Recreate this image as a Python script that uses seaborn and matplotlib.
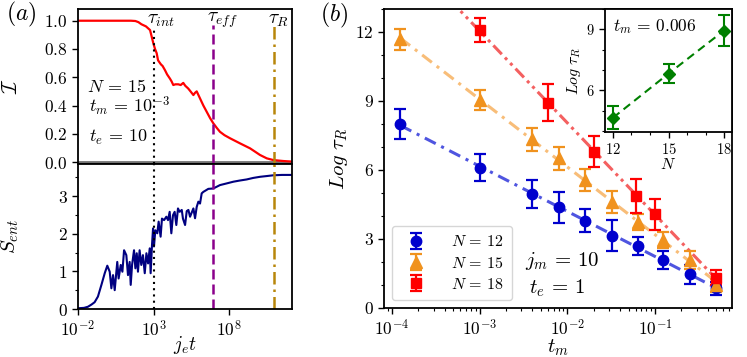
import numpy as np
import pandas as pd
import matplotlib
matplotlib.use("Agg")
import matplotlib.pyplot as plt
from matplotlib.ticker import MultipleLocator, NullLocator, FixedLocator
import seaborn as sns

# ---------------- data: panel (a) ----------------
# time axis values given as log10(j_e t)
logt_I = [-2, -1, 0, 1, 1.5, 1.8, 2.0, 2.2, 2.5, 2.77, 2.99, 3.1, 3.21, 3.3, 3.43, 3.5,
          3.6, 3.76, 3.9, 4.09, 4.2, 4.31, 4.45, 4.64, 4.8, 4.97, 5.1, 5.30, 5.45, 5.64,
          5.75, 5.86, 6.08, 6.3, 6.52, 6.75, 6.96, 7.2, 7.40, 7.7, 8.07, 8.4, 8.73, 9.05,
          9.39, 9.7, 10.05, 10.5, 10.93, 11.3, 11.6, 12.2]
I_vals = [1.0, 1.0, 1.0, 1.0, 1.0, 0.998, 0.99, 0.975, 0.96, 0.934, 0.84, 0.80, 0.77, 0.72,
          0.70, 0.69, 0.68, 0.65, 0.62, 0.59, 0.57, 0.545, 0.55, 0.55, 0.545, 0.56, 0.54,
          0.52, 0.50, 0.474, 0.49, 0.50, 0.45, 0.40, 0.356, 0.31, 0.274, 0.24, 0.214, 0.19,
          0.168, 0.15, 0.132, 0.115, 0.097, 0.075, 0.05, 0.026, 0.014, 0.01, 0.007, 0.003]

logt_S = [-2, -1.6, -1.34, -1.1, -0.9, -0.68, -0.45, -0.23, -0.06, 0.10, 0.21, 0.32, 0.43,
          0.60, 0.69, 0.83, 0.94, 1.05, 1.20, 1.31, 1.42, 1.49, 1.58, 1.71, 1.80, 1.89,
          1.97, 2.08, 2.19, 2.30, 2.42, 2.53, 2.64, 2.75, 2.81, 2.90, 2.97, 3.03, 3.12,
          3.25, 3.34, 3.47, 3.56, 3.70, 3.85, 3.96, 4.07, 4.18, 4.29, 4.40, 4.51, 4.62,
          4.73, 4.87, 4.95, 5.09, 5.20, 5.31, 5.42, 5.64, 5.75, 5.86, 5.97, 6.08, 6.19,
          6.30, 6.63, 6.96, 7.40, 7.8, 8.29, 8.7, 9.17, 9.6, 10.05, 10.5, 10.93, 11.5, 12.2]
S_vals = [0.02, 0.03, 0.06, 0.12, 0.18, 0.33, 0.64, 0.95, 1.15, 0.99, 0.55, 0.90, 0.50,
          1.25, 0.81, 1.17, 0.99, 1.56, 1.43, 0.90, 1.25, 0.64, 1.17, 1.56, 1.08, 1.48,
          0.99, 1.56, 1.17, 1.43, 0.95, 1.48, 1.21, 1.61, 0.95, 1.70, 2.14, 1.66, 2.09,
          2.01, 2.32, 1.92, 2.40, 2.36, 2.45, 2.36, 2.58, 2.01, 2.49, 2.58, 2.23, 2.67,
          2.58, 2.63, 2.40, 2.23, 2.60, 2.63, 2.45, 2.67, 2.41, 2.71, 2.85, 2.80, 3.07,
          3.11, 3.19, 3.20, 3.29, 3.33, 3.38, 3.41, 3.44, 3.48, 3.51, 3.53, 3.55, 3.56, 3.56]

tau_int = 1e3
tau_eff = 10 ** 6.95
tau_R = 10 ** 10.95

# ---------------- data: panel (b) ----------------
tm_12 = [1.25e-4, 1e-3, 4e-3, 8e-3, 1.6e-2, 3.2e-2, 6.4e-2, 0.125, 0.25, 0.5]
lt_12 = [8.0, 6.1, 4.96, 4.38, 3.80, 3.15, 2.70, 2.09, 1.46, 0.85]
er_12 = [0.67, 0.6, 0.6, 0.67, 0.49, 0.67, 0.4, 0.41, 0.43, 0.3]

tm_15 = [1.25e-4, 1e-3, 4e-3, 8e-3, 1.6e-2, 3.2e-2, 6.4e-2, 0.125, 0.25, 0.5]
lt_15 = [11.68, 9.04, 7.33, 6.51, 5.57, 4.62, 3.75, 2.96, 2.09, 0.98]
er_15 = [0.46, 0.43, 0.49, 0.49, 0.47, 0.47, 0.34, 0.34, 0.4, 0.3]

tm_18 = [1e-3, 6e-3, 2e-2, 6e-2, 0.1, 0.5]
lt_18 = [12.09, 8.93, 6.8, 4.88, 4.07, 1.32]
er_18 = [0.54, 0.8, 0.67, 0.75, 0.67, 0.33]

N_inset = [12, 15, 18]
lt_inset = [4.65, 6.82, 8.94]
er_inset = [0.57, 0.47, 0.78]

# ---------------- style ----------------
sns.set_style("ticks")
plt.rcParams.update({
    "font.family": "serif",
    "font.serif": ["cmr10", "DejaVu Serif"],
    "mathtext.fontset": "cm",
    "axes.formatter.use_mathtext": True,
    "axes.unicode_minus": False,
    "axes.edgecolor": "black",
    "axes.linewidth": 1.3,
    "xtick.color": "black", "ytick.color": "black",
    "xtick.major.size": 4, "ytick.major.size": 4,
    "xtick.minor.size": 2.2, "ytick.minor.size": 2.2,
    "xtick.major.width": 1.0, "ytick.major.width": 1.0,
    "xtick.minor.width": 0.8, "ytick.minor.width": 0.8,
    "xtick.direction": "out", "ytick.direction": "out",
    "xtick.labelsize": 12.5, "ytick.labelsize": 12.5,
    "text.color": "black", "axes.labelcolor": "black",
})

W, H = 747, 357
fig = plt.figure(figsize=(W / 100, H / 100), dpi=100)


def box(l, t, r, b):
    return [l / W, (H - b) / H, (r - l) / W, (b - t) / H]


ax_top = fig.add_axes(box(78, 9, 292, 164))
ax_bot = fig.add_axes(box(78, 164, 292, 309))
ax_b = fig.add_axes(box(384, 9, 732, 308))
ax_in = fig.add_axes(box(605, 9, 732, 132))

EQ = r"\,=\,"

# ---------------- panel (a) top ----------------
dfI = pd.DataFrame({"t": 10.0 ** np.array(logt_I), "I": I_vals})
sns.lineplot(data=dfI, x="t", y="I", ax=ax_top, color="red", lw=1.6, sort=False)
ax_top.axhline(0, color="0.45", lw=2.0, zorder=1)
ax_top.axvline(tau_int, ymax=0.865, color="black", ls=(0, (1, 2)), lw=1.5)
ax_top.axvline(tau_eff, ymax=0.90, color="darkmagenta", ls=(0, (4, 2)), lw=1.8)
ax_top.axvline(tau_R, ymax=0.89, color="darkgoldenrod", ls=(0, (5, 2, 1, 2)), lw=1.8)
ax_top.set_xscale("log")
ax_top.set_xlim(1e-2, 10 ** 12.17)
ax_top.set_ylim(-0.014, 1.083)
ax_top.yaxis.set_major_locator(FixedLocator([0.0, 0.2, 0.4, 0.6, 0.8, 1.0]))
ax_top.tick_params(axis="x", which="both", bottom=False, labelbottom=False)
ax_top.set_xlabel("")
ax_top.set_ylabel(r"$\mathcal{I}$", fontsize=15)
ax_top.yaxis.set_label_coords(-0.266, 0.5)
ax_top.text(0.042, 0.503, r"$N" + EQ + "15$", transform=ax_top.transAxes, fontsize=13, va="center")
ax_top.text(0.05, 0.37, r"$t_m" + EQ + "10^{-3}$", transform=ax_top.transAxes, fontsize=13, va="center")
ax_top.text(0.05, 0.168, r"$t_e" + EQ + "10$", transform=ax_top.transAxes, fontsize=13, va="center")
ax_top.text(0.322, 0.93, r"$\tau_{int}$", transform=ax_top.transAxes, fontsize=14, va="center")
ax_top.text(0.603, 0.93, r"$\tau_{eff}$", transform=ax_top.transAxes, fontsize=14, va="center")
ax_top.text(0.888, 0.93, r"$\tau_R$", transform=ax_top.transAxes, fontsize=14, va="center")

# ---------------- panel (a) bottom ----------------
dfS = pd.DataFrame({"t": 10.0 ** np.array(logt_S), "S": S_vals})
sns.lineplot(data=dfS, x="t", y="S", ax=ax_bot, color="navy", lw=1.5, sort=False)
ax_bot.axvline(tau_int, color="black", ls=(0, (1, 2)), lw=1.5)
ax_bot.axvline(tau_eff, color="darkmagenta", ls=(0, (4, 2)), lw=1.8)
ax_bot.axvline(tau_R, color="darkgoldenrod", ls=(0, (5, 2, 1, 2)), lw=1.8)
ax_bot.set_xscale("log")
ax_bot.set_xlim(1e-2, 10 ** 12.17)
ax_bot.set_ylim(0, 3.85)
ax_bot.xaxis.set_major_locator(FixedLocator([1e-2, 1e3, 1e8]))
ax_bot.xaxis.set_minor_locator(NullLocator())
ax_bot.yaxis.set_major_locator(MultipleLocator(1))
ax_bot.yaxis.set_minor_locator(MultipleLocator(0.5))
ax_bot.set_xlabel(r"$j_e t$", fontsize=14, labelpad=-4)
ax_bot.set_ylabel(r"$S_{ent}$", fontsize=15)
ax_bot.yaxis.set_label_coords(-0.266, 0.5)

fig.text(21 / W, 1 - 14 / H, r"$(a)$", fontsize=17, ha="center", va="center")
fig.text(334 / W, 1 - 15 / H, r"$(b)$", fontsize=17, ha="center", va="center")

# ---------------- panel (b) ----------------
series = [
    (tm_12, lt_12, er_12, "o", "mediumblue", "#4f55e0", 7.5, r"$N" + EQ + "12$", (0, (4, 2, 1, 2))),
    (tm_15, lt_15, er_15, "^", "#f0921e", "#f8bd78", 8.5, r"$N" + EQ + "15$", (0, (4, 2, 1, 2))),
    (tm_18, lt_18, er_18, "s", "red", "#f46060", 7, r"$N" + EQ + "18$", (0, (4, 1.5, 1, 1.5, 1, 1.5))),
]
xfit = np.array([min(tm_12), max(tm_12)])
for tm, lt, er, mk, col, fitcol, ms, lab, dash in series:
    coef = np.polyfit(np.log10(tm), lt, 1)
    yfit = np.polyval(coef, np.log10(xfit))
    sns.lineplot(x=xfit, y=yfit, ax=ax_b, color=fitcol, lw=2.2, linestyle=dash, zorder=2)
for tm, lt, er, mk, col, fitcol, ms, lab, dash in series:
    ax_b.errorbar(tm, lt, yerr=er, fmt=mk, color=col, ms=ms, capsize=4, elinewidth=1.6,
                  capthick=1.6, label=lab, zorder=3)
ax_b.set_xscale("log")
ax_b.set_xlim(10 ** -4.09, 10 ** -0.122)
ax_b.set_ylim(0, 13)
ax_b.yaxis.set_major_locator(MultipleLocator(3))
ax_b.yaxis.set_minor_locator(MultipleLocator(1))
ax_b.set_xlabel(r"$t_m$", fontsize=15, labelpad=-1)
ax_b.set_ylabel(r"$Log\ \tau_R$", fontsize=15, labelpad=4)
leg = ax_b.legend(loc="lower left", fontsize=11.5, frameon=True, framealpha=0.8,
                  edgecolor="0.8", handletextpad=1.2, borderpad=0.5, labelspacing=0.4)
ax_b.text(0.405, 0.157, r"$j_m" + EQ + "10$", transform=ax_b.transAxes, fontsize=15, va="center")
ax_b.text(0.418, 0.067, r"$t_e" + EQ + "1$", transform=ax_b.transAxes, fontsize=15, va="center")

# ---------------- inset ----------------
ax_in.set_facecolor("white")
sns.lineplot(x=N_inset, y=lt_inset, ax=ax_in, color="green", lw=1.5, linestyle=(0, (4, 2.5)))
ax_in.errorbar(N_inset, lt_inset, yerr=er_inset, fmt="D", color="green", ms=6, capsize=4,
               elinewidth=1.5, capthick=1.5, zorder=3)
ax_in.set_xlim(11.57, 18.43)
ax_in.set_ylim(3.95, 10.0)
ax_in.xaxis.set_major_locator(FixedLocator([12, 15, 18]))
ax_in.xaxis.set_minor_locator(MultipleLocator(1))
ax_in.yaxis.set_major_locator(FixedLocator([6, 9]))
ax_in.yaxis.set_minor_locator(MultipleLocator(1))
ax_in.tick_params(labelsize=10.5)
ax_in.set_xlabel(r"$N$", fontsize=11.5, labelpad=0)
ax_in.set_ylabel(r"$Log\ \tau_R$", fontsize=11.5, labelpad=2)
ax_in.text(0.063, 0.854, r"$t_m" + EQ + "0.006$", transform=ax_in.transAxes, fontsize=12.5, va="center")

fig.savefig("out.png", dpi=100)
